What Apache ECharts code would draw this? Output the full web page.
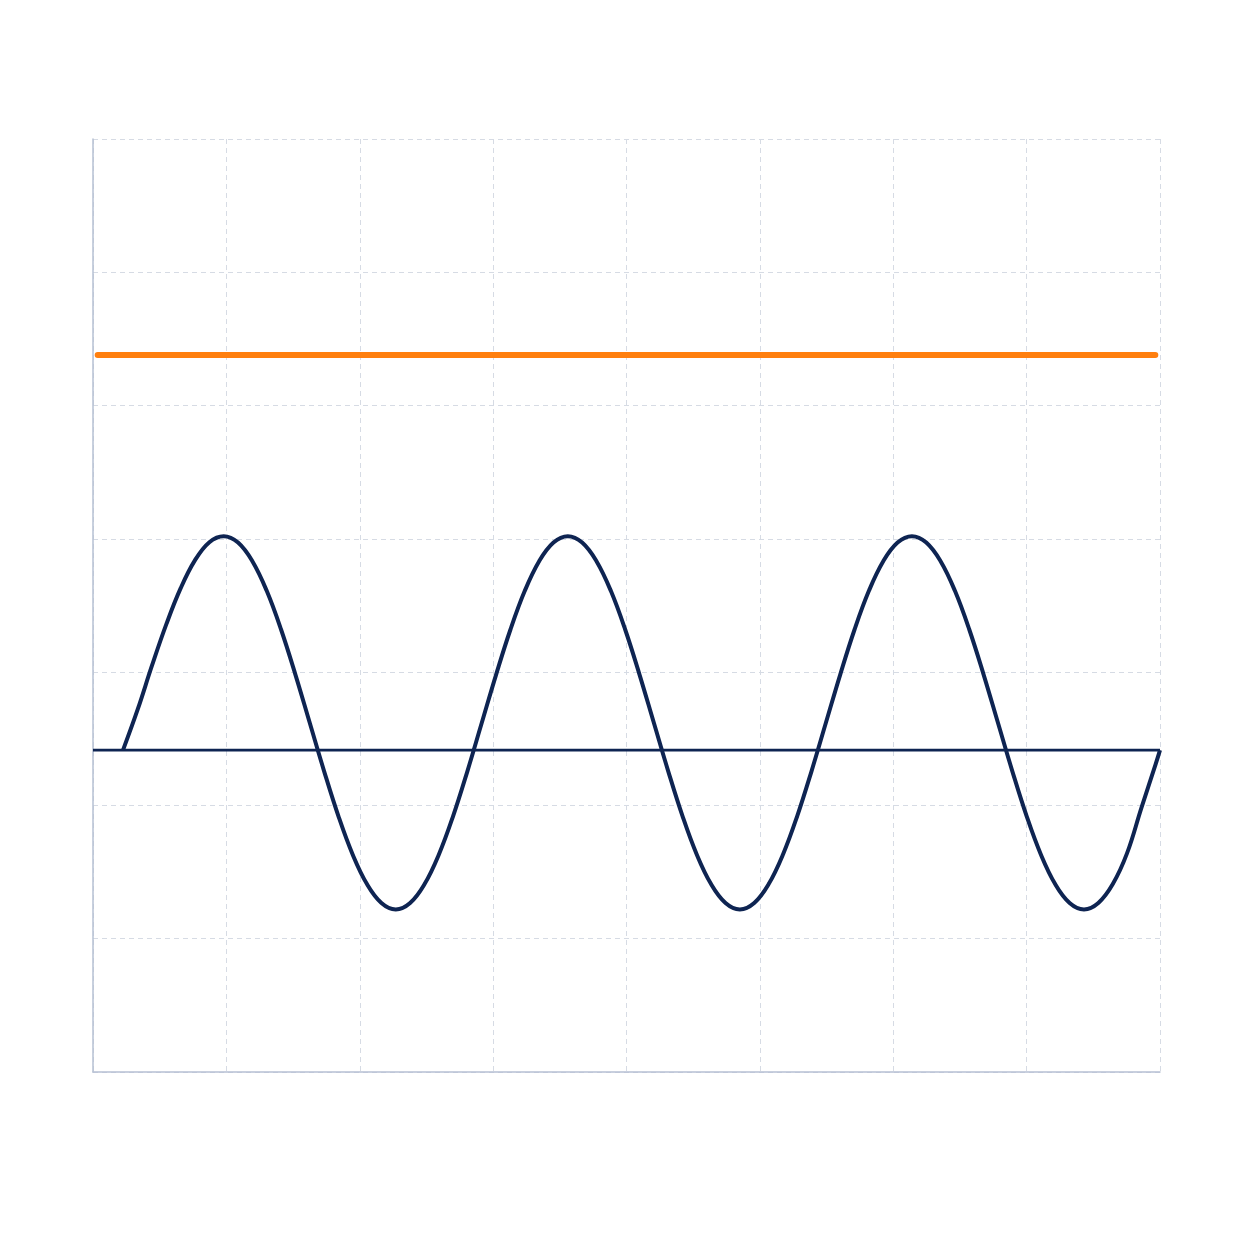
<!DOCTYPE html>
<html>
<head>
<meta charset="utf-8">
<script src="https://cdn.jsdelivr.net/npm/echarts@6/dist/echarts.min.js"></script>
<style>
html,body{margin:0;padding:0;background:#ffffff;}
#chart{width:1254px;height:1254px;}
</style>
</head>
<body>
<div id="chart"></div>
<script>
// Wave samples (x positions and values)
var waveX = [0.225,
  0.335, 0.4425, 0.55, 0.6575, 0.765, 0.8725,
  0.98, 1.0875, 1.195, 1.3025, 1.41, 1.5175, 1.625, 1.7325, 1.84, 1.9475, 2.055, 2.1625,
  2.27, 2.3775, 2.485, 2.5925, 2.70, 2.8075, 2.915, 3.0225, 3.13, 3.2375, 3.345, 3.4525,
  3.56, 3.6675, 3.775, 3.8825, 3.99, 4.0975, 4.205, 4.3125, 4.42, 4.5275, 4.635, 4.7425,
  4.85, 4.9575, 5.065, 5.1725, 5.28, 5.3875, 5.495, 5.6025, 5.71, 5.8175, 5.925, 6.0325,
  6.14, 6.2475, 6.355, 6.4625, 6.57, 6.6775, 6.785, 6.8925, 7.00, 7.1075, 7.215, 7.3225,
  7.43, 7.5375, 7.645, 7.7525, 7.86, 7.9675,
  8.0];
var waveY = [2.415,
  2.72, 3.05, 3.36, 3.63, 3.84, 3.975,
  4.02, 3.972, 3.832, 3.61, 3.32, 2.982, 2.62, 2.258, 1.92, 1.63, 1.408, 1.268,
  1.22, 1.268, 1.408, 1.63, 1.92, 2.258, 2.62, 2.982, 3.32, 3.61, 3.832, 3.972,
  4.02, 3.972, 3.832, 3.61, 3.32, 2.982, 2.62, 2.258, 1.92, 1.63, 1.408, 1.268,
  1.22, 1.268, 1.408, 1.63, 1.92, 2.258, 2.62, 2.982, 3.32, 3.61, 3.832, 3.972,
  4.02, 3.972, 3.832, 3.61, 3.32, 2.982, 2.62, 2.258, 1.92, 1.63, 1.408, 1.268,
  1.22, 1.268, 1.408, 1.64, 1.98, 2.31,
  2.415];
// Baseline
var baseX = [0, 8];
var baseY = [2.415, 2.415];
// Constant orange level
var levelX = [0.035, 7.965];
var levelY = [5.38, 5.38];

function pairs(xs, ys){ return xs.map(function(x,i){ return [x, ys[i]]; }); }

var chart = echarts.init(document.getElementById('chart'), null, {renderer:'canvas'});
chart.setOption({
  animation:false,
  backgroundColor:'#ffffff',
  grid:{left:93, right:94, top:139, bottom:182},
  xAxis:{type:'value', min:0, max:8, interval:1,
    axisLine:{show:true, onZero:false, lineStyle:{color:'#b6c0d3', width:1.5}},
    axisTick:{show:false}, axisLabel:{show:false},
    splitLine:{show:true, lineStyle:{color:'#d6dbe4', type:[5,4], width:1}}},
  yAxis:{type:'value', min:0, max:7, interval:1,
    axisLine:{show:true, onZero:false, lineStyle:{color:'#b6c0d3', width:1.5}},
    axisTick:{show:false}, axisLabel:{show:false},
    splitLine:{show:true, lineStyle:{color:'#d6dbe4', type:[5,4], width:1}}},
  series:[
    {type:'line', data:pairs(levelX, levelY), showSymbol:false, symbol:'none',
     lineStyle:{color:'#ff7f0e', width:6, cap:'round'}},
    {type:'line', data:pairs(baseX, baseY), showSymbol:false, symbol:'none',
     lineStyle:{color:'#0e2452', width:2.8}},
    {type:'line', data:pairs(waveX, waveY), showSymbol:false, symbol:'none', smooth:0.4,
     lineStyle:{color:'#0e2452', width:4, join:'round'}}
  ]
});
</script>
</body>
</html>
